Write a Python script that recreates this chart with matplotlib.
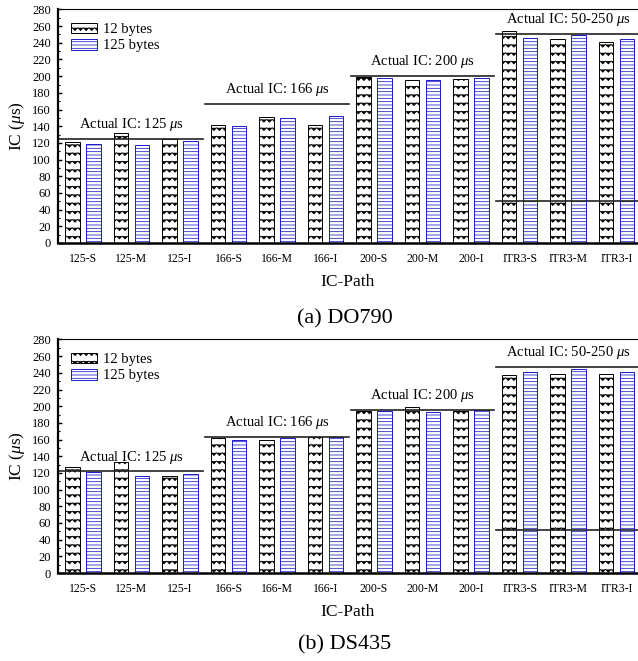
import warnings
import numpy as np
import matplotlib
matplotlib.use('Agg')
import matplotlib.pyplot as plt
from matplotlib import hatch as mhatch
from matplotlib.path import Path
from matplotlib.ticker import MultipleLocator

warnings.filterwarnings('ignore')

paths = ['125-S', '125-M', '125-I', '166-S', '166-M', '166-I',
         '200-S', '200-M', '200-I', 'ITR3-S', 'ITR3-M', 'ITR3-I']

# (a) DO790
do790_12 = [121.6, 132.4, 124.8, 141.2, 151.6, 141.2, 198.8, 196.0, 197.2, 254.4, 244.8, 240.4]
do790_125 = [119.2, 117.2, 122.4, 140.0, 149.6, 152.4, 198.4, 196.0, 198.4, 245.2, 249.6, 244.0]
do790_actual = [[125], [167], [200], [50, 251]]

# (b) DS435
ds435_12 = [127.2, 132.8, 116.0, 162.0, 159.2, 162.8, 194.8, 198.8, 194.0, 238.0, 239.2, 239.2]
ds435_125 = [121.6, 116.8, 119.2, 159.2, 162.0, 162.8, 194.0, 193.2, 196.0, 241.2, 245.2, 241.2]
ds435_actual = [[122], [163], [196], [52, 247]]

actual_text = ['125', '166', '200', '50-250']

plt.rcParams['font.family'] = ['Liberation Serif', 'DejaVu Serif']
plt.rcParams['mathtext.fontset'] = 'custom'
plt.rcParams['mathtext.rm'] = 'Liberation Serif'
plt.rcParams['mathtext.it'] = 'Liberation Serif:italic'
plt.rcParams['hatch.linewidth'] = 0.55


class ZigZagHatch(mhatch.HatchPatternBase):
    # matplotlib has no zigzag hatch, so add one for the 'z' character
    def __init__(self, hatch, density):
        n = hatch.count('z')
        self.rows = 12 * n
        self.waves = 18 * n
        self.num_vertices = self.rows * (2 * self.waves + 1)

    def set_vertices_and_codes(self, vertices, codes):
        per = 2 * self.waves + 1
        xs = np.linspace(0, 1, per)
        wiggle = np.where(np.arange(per) % 2 == 0, 0.014, -0.014)
        for i in range(self.rows):
            sl = slice(i * per, (i + 1) * per)
            vertices[sl, 0] = xs
            vertices[sl, 1] = (i + 0.5) / self.rows + wiggle
            codes[sl] = Path.LINETO
            codes[i * per] = Path.MOVETO


mhatch._hatch_types.append(ZigZagHatch)


def draw_panel(ax, v12, v125, actual):
    x = np.arange(len(paths))
    ax.bar(x - 0.215, v12, 0.3, color='white', edgecolor='black',
           hatch='z', lw=0.7, label='12 bytes')
    ax.bar(x + 0.215, v125, 0.3, color='white', edgecolor='#1a1acc',
           hatch='-----', lw=0.7, label='125 bytes')

    for g, (levels, txt) in enumerate(zip(actual, actual_text)):
        lo = g * 3 - 0.48 if g else -0.6
        hi = g * 3 + 2.48 if g < 3 else 12
        for lv in levels:
            ax.plot([lo, hi], [lv, lv], color='#222222', lw=1.2)
        ax.text(g * 3 + 1, max(levels) + 17, r'Actual IC: ' + txt + r' $\mu$s',
                ha='center', va='center', fontsize=10.5)

    ax.set_xlim(-0.515, 11.44)
    ax.set_ylim(0, 280)
    ax.set_xticks(x)
    ax.set_xticklabels(paths, fontsize=8.5)
    ax.tick_params(axis='x', length=0, pad=7)
    ax.yaxis.set_major_locator(MultipleLocator(20))
    ax.yaxis.set_minor_locator(MultipleLocator(10))
    ax.tick_params(axis='y', which='major', direction='in', length=3, width=1,
                   labelsize=9, pad=5)
    ax.tick_params(axis='y', which='minor', direction='in', length=1.5, width=0.8)
    ax.spines['right'].set_visible(False)
    ax.spines['top'].set_linewidth(0.8)
    ax.spines['left'].set_linewidth(1.6)
    ax.spines['bottom'].set_linewidth(1.8)
    ax.set_ylabel(r'IC ($\mu$s)', fontsize=12.5, labelpad=4)
    ax.set_xlabel('IC-Path', fontsize=12.5, labelpad=7)
    ax.legend(loc='upper left', bbox_to_anchor=(0.0, 1.0), frameon=False,
              fontsize=10.5, handlelength=1.8, handleheight=0.75,
              labelspacing=0.2, handletextpad=0.4, borderaxespad=0.5)


fig = plt.figure(figsize=(6.38, 6.61), dpi=100)
ax1 = fig.add_axes([0.0909, 0.6324, 0.9091, 0.3533])
ax2 = fig.add_axes([0.0909, 0.1331, 0.9091, 0.3533])

draw_panel(ax1, do790_12, do790_125, do790_actual)
draw_panel(ax2, ds435_12, ds435_125, ds435_actual)

fig.text(0.54, 0.517, '(a) DO790', ha='center', va='center', fontsize=16)
fig.text(0.54, 0.024, '(b) DS435', ha='center', va='center', fontsize=16)

fig.savefig('out.png', dpi=100)
